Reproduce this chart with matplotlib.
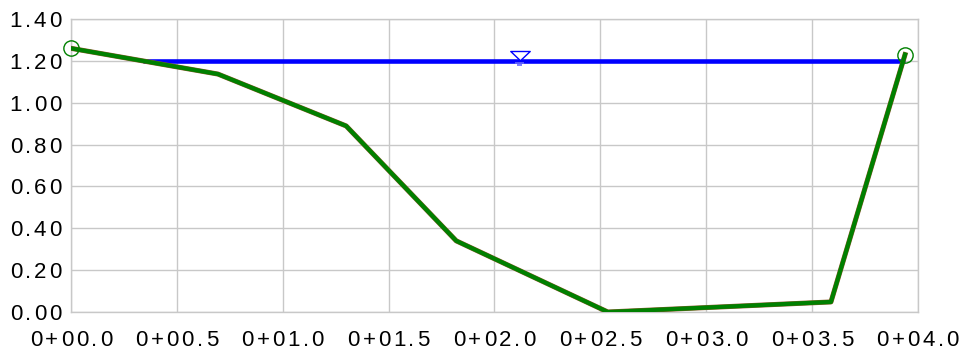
import matplotlib
matplotlib.use("Agg")
import matplotlib.pyplot as plt
import numpy as np
from matplotlib.font_manager import FontProperties
from matplotlib.textpath import text_to_path
from matplotlib.path import Path

########################################################################
### data ###
########################################################################

# ground profile (station, elevation)
station = [0.0, 0.694, 1.30, 1.82, 2.536, 3.59, 3.94]
elev = [1.26, 1.137, 0.889, 0.34, 0.0, 0.048, 1.23]

# water surface
water_level = 1.20
wl_marker_x = 2.12

xticks = [0.0, 0.5, 1.0, 1.5, 2.0, 2.5, 3.0, 3.5, 4.0]
xticklabels = ['0+00.0', '0+00.5', '0+01.0', '0+01.5', '0+02.0',
               '0+02.5', '0+03.0', '0+03.5', '0+04.0']
yticks = [0.0, 0.2, 0.4, 0.6, 0.8, 1.0, 1.2, 1.4]
yticklabels = ['0.00', '0.20', '0.40', '0.60', '0.80', '1.00', '1.20', '1.40']

########################################################################
### helpers ###
########################################################################

FS = 16          # font size, pt
TRACK = 2.0      # extra spacing between characters, pt
prop = FontProperties(family='Liberation Sans', size=FS)


def spaced_label(ax, x, y, s, trans, ha, va, dx=0, dy=0):
    '''draw a label char by char with letter spacing'''
    widths = [text_to_path.get_text_width_height_descent(c, prop, False)[0]
              for c in s]
    total = sum(widths) + TRACK * (len(s) - 1)
    start = {'center': -total / 2, 'right': -total, 'left': 0}[ha]
    pos = start
    for c, w in zip(s, widths):
        ax.annotate(c, (x, y), xycoords=trans,
                    xytext=(pos + dx, dy), textcoords='offset points',
                    ha='left', va=va, fontproperties=prop,
                    annotation_clip=False)
        pos += w + TRACK


########################################################################
### plot ###
########################################################################

fig = plt.figure(figsize=(9.63, 3.56), dpi=100)
ax = fig.add_axes([0.0737, 0.1236, 0.953 - 0.0737, 0.9466 - 0.1236])

# water line starts where the ground crosses the water level on the left
x_start = np.interp(-water_level, [-e for e in elev[:2]], station[:2])
ax.plot([x_start, station[-1]], [water_level, water_level],
        color='#0000ff', lw=3.3, zorder=3, solid_capstyle='butt')

# ground line (brown underneath, green on top)
ax.plot(station, elev, color='#8b5a2b', lw=3.6, zorder=4)
ax.plot(station, elev, color='#008000', lw=3, zorder=5)

# end markers
ax.plot([station[0], station[-1]], [elev[0], elev[-1]], 'o', ms=11,
        mfc='none', mec='#008000', mew=1, zorder=6, clip_on=False)

# water level symbol
tri = Path([(-1, 0), (1, 0), (0, -0.95), (-1, 0)],
           [Path.MOVETO, Path.LINETO, Path.LINETO, Path.CLOSEPOLY])
ax.plot([wl_marker_x], [water_level + 0.047], marker=tri, ms=14,
        mfc='white', mec='#0000ff', mew=1, zorder=6)
ax.plot([wl_marker_x - 0.021, wl_marker_x + 0.021],
        [water_level - 0.011, water_level - 0.011],
        color='#6666ff', lw=1.2, zorder=6, solid_capstyle='butt')
ax.plot([wl_marker_x - 0.012, wl_marker_x + 0.012],
        [water_level - 0.019, water_level - 0.019],
        color='#6666ff', lw=1.2, zorder=6, solid_capstyle='butt')

ax.set_xlim(0, 4.0)
ax.set_ylim(0, 1.4)
ax.set_xticks(xticks)
ax.set_yticks(yticks)
ax.set_xticklabels([])
ax.set_yticklabels([])
ax.tick_params(length=0)
ax.grid(True, color='#c8c8c8', lw=1)
for s in ax.spines.values():
    s.set_color('#c8c8c8')
    s.set_linewidth(1)

# tick labels with letter spacing
for v, lab in zip(xticks, xticklabels):
    spaced_label(ax, v, 0, lab, ax.get_xaxis_transform(), 'center', 'top',
                 dy=-13)
for v, lab in zip(yticks, yticklabels):
    spaced_label(ax, 0, v, lab, ax.get_yaxis_transform(), 'right',
                 'center_baseline', dx=-7)

fig.savefig('out.png', dpi=100)
